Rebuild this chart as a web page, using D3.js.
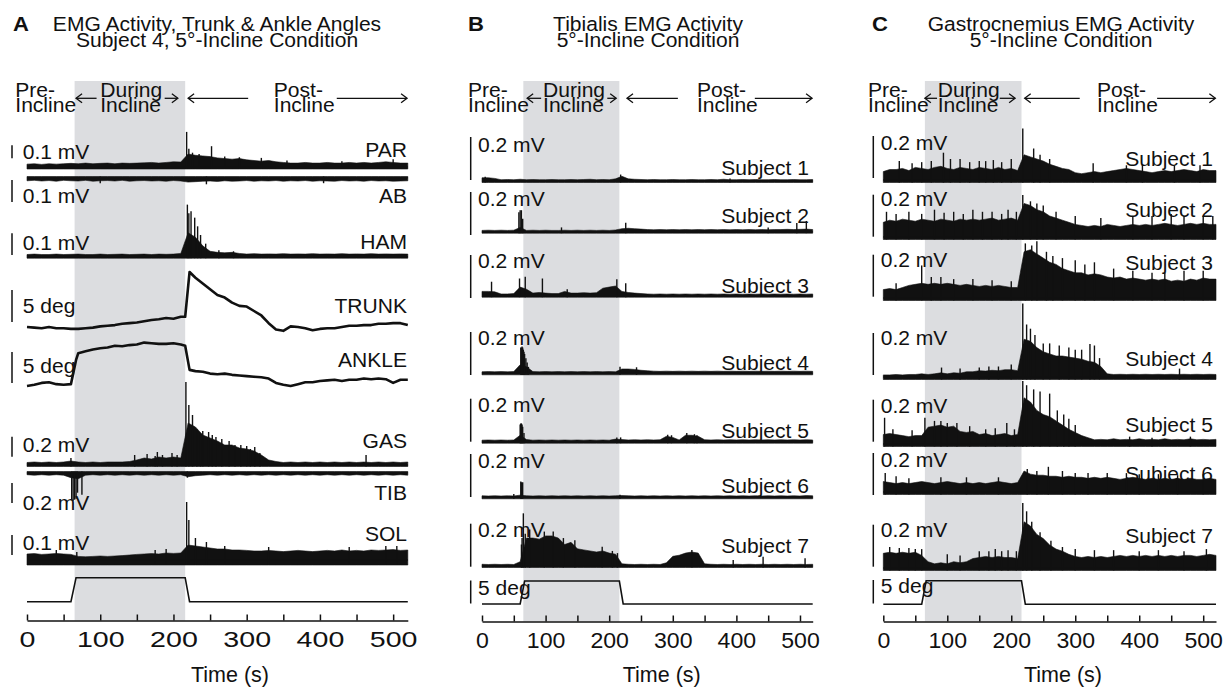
<!DOCTYPE html>
<html>
<head>
<meta charset="utf-8">
<script src="https://cdn.jsdelivr.net/npm/d3@7"></script>
<style>
  body { margin: 0; background: #fff; }
</style>
</head>
<body>
<div id="chart"></div>
<script>
const width = 1229;
const height = 689;

// sample times of the EMG envelopes (s)
const times = [0,10,20,30,40,50,60,70,80,90,100,110,120,130,140,150,160,170,180,190,200,210,
  220,230,240,250,260,270,280,290,300,310,320,330,340,350,360,370,380,390,400,410,
  420,430,440,450,460,470,480,490,500,510,520];
// sample times of the angle traces (s)
const angleTimes = [0,10,20,30,40,50,60,67,70,80,90,100,110,120,130,140,150,160,170,180,190,200,210,216,222,
  230,240,250,260,270,280,290,300,310,320,330,340,350,360,370,380,390,400,410,420,430,440,450,460,470,480,490,500,510,520];
const tickValues = [0,50,100,150,200,250,300,350,400,450,500];
const shadeRange = [65, 216];

const titleA = ["EMG Activity, Trunk & Ankle Angles", "Subject 4, 5°-Incline Condition"];
const titleB = ["Tibialis EMG Activity", "5°-Incline Condition"];
const titleC = ["Gastrocnemius EMG Activity", "5°-Incline Condition"];

// angles (deg)
const trunkDeg = [0,-0.1,-0.2,0,-0.2,-0.2,-0.3, -0.3,
  -0.3,-0.2,-0.1,0.1,0.2,0.3,0.5,0.6,0.7,0.9,1.1,1.2,1.4,1.3,1.6, 1.6,8.6,
  7.7,6.8,5.9,5.0,4.6,3.8,3.3,3.2,2.5,1.8, 0.6,-0.4,-0.6,0.1,0,-0.2,-0.5,-0.3,-0.2,-0.2,
  0,0.2,0.2,0.3,0.3,0.5,0.5,0.6,0.6,0.3];
const ankleDeg = [0,0.2,0.5,0.6,0.3,0.2,0.3, 4.2,
  5.3,5.6,5.9,6.1,6.2,6.5,6.4,6.6,6.7,7.0,6.9,6.8,6.8,6.9,6.7, 6.5,2.6,
  2.4,2.3,2.0,1.9,2.0,1.8,1.7,1.6,1.5,1.4, 1.2,0.5,0.2,0,0.3,0.6,0.6,0.8,0.9,1.0,
  0.8,1.0,1.0,1.2,1.1,1.2,1.1,0.5,1.0,1.0];
const inclineDeg = [0,0,0,0,0,0,0, 5,
  5,5,5,5,5,5,5,5,5,5,5,5,5,5,5, 5,0,
  0,0,0,0,0,0,0,0,0,0, 0,0,0,0,0,0,0,0,0,0,
  0,0,0,0,0,0,0,0,0,0];

// Panel A EMG envelopes (mV)
const parA = [0.022,0.025,0.02,0.025,0.022,0.025,0.028,
  0.025,0.03,0.025,0.028,0.03,0.025,0.03,0.028,
  0.03,0.032,0.035,0.03,0.035,0.04,0.038,
  0.1,0.09,0.085,0.08,0.07,0.065,0.06,0.065,0.055,0.05,
  0.045,0.05,0.04,0.035,0.03,0.03,0.035,0.03,0.03,0.035,
  0.03,0.03,0.035,0.03,0.035,0.03,0.035,0.04,0.035,0.03,0.03];
const parSpikes = [[218,0.27],[221,0.14],[226,0.11],[235,0.1],[252,0.16],[270,0.08],[290,0.075],[320,0.07],[355,0.05],[430,0.045],[500,0.06]];
const abA = [0.014,0.012,0.015,0.013,0.016,0.012,0.014,0.015,0.012,0.016,0.014,0.013,0.015,0.012,0.016,0.014,0.013,0.015,0.014,0.016,0.013,0.015,
  0.02,0.018,0.016,0.015,0.017,0.014,0.016,0.015,0.013,0.016,
  0.014,0.015,0.013,0.016,0.014,0.015,0.013,0.016,0.014,0.015,
  0.016,0.013,0.015,0.014,0.016,0.013,0.015,0.014,0.016,0.015,0.014];
const abSpikes = [[100,0.025],[245,0.03],[405,0.025]];
const hamA = [0.01,0.012,0.01,0.01,0.012,0.01,0.011,0.012,0.01,0.01,0.012,0.01,0.011,0.012,0.01,0.011,0.012,0.01,0.012,0.011,0.012,0.015,
  0.11,0.09,0.05,0.025,0.02,0.018,0.02,0.015,0.012,0.014,
  0.012,0.013,0.012,0.014,0.012,0.013,0.012,0.014,0.012,0.013,
  0.012,0.014,0.012,0.013,0.012,0.014,0.012,0.013,0.012,0.013,0.012];
const hamSpikes = [[219,0.24],[221,0.2],[224,0.21],[229,0.18],[233,0.14],[237,0.1],[244,0.06],[262,0.03],[282,0.025]];
const gasA = [0.025,0.03,0.025,0.03,0.025,0.03,0.04,
  0.03,0.025,0.03,0.025,0.03,0.03,0.03,0.035,
  0.05,0.07,0.06,0.08,0.07,0.08,0.07,
  0.42,0.38,0.3,0.27,0.24,0.2,0.2,0.17,0.16,0.14,
  0.1,0.05,0.035,0.025,0.03,0.025,0.03,0.025,0.03,0.025,
  0.03,0.025,0.03,0.025,0.03,0.025,0.03,0.025,0.03,0.025,0.03];
const gasSpikes = [[60,0.07],[147,0.1],[164,0.11],[175,0.09],[178,0.13],[185,0.1],[198,0.12],[205,0.1],[217,0.83],[221,0.6],[226,0.5],[232,0.36],[237,0.32],[240,0.34],[248,0.33],[253,0.3],[258,0.28],[266,0.26],[276,0.24],[284,0.2],[292,0.2],[300,0.19],[305,0.16],[311,0.18],[318,0.12],[463,0.1]];
const tibA = [0.02,0.025,0.02,0.025,0.02,0.025,0.05,
  0.06,0.025,0.02,0.025,0.02,0.025,0.02,0.025,
  0.02,0.025,0.02,0.025,0.02,0.025,0.02,
  0.04,0.03,0.025,0.02,0.025,0.02,0.025,0.02,0.025,0.02,
  0.025,0.02,0.025,0.02,0.025,0.02,0.025,0.02,0.025,0.02,
  0.025,0.02,0.025,0.02,0.025,0.02,0.025,0.02,0.025,0.02,0.025];
const tibSpikes = [[61,0.27],[63,0.28],[65,0.27],[67,0.26],[69,0.2],[75,0.22],[219,0.05]];
const solA = [0.03,0.032,0.028,0.03,0.033,0.03,0.028,
  0.018,0.016,0.018,0.02,0.018,0.02,0.022,0.025,
  0.028,0.03,0.032,0.03,0.035,0.033,0.035,
  0.075,0.07,0.065,0.06,0.055,0.055,0.05,0.05,0.048,0.045,
  0.045,0.048,0.045,0.042,0.045,0.048,0.045,0.042,0.045,0.048,
  0.045,0.05,0.045,0.048,0.045,0.05,0.048,0.05,0.052,0.048,0.05];
const solSpikes = [[40,0.05],[68,0.04],[175,0.05],[190,0.055],[218,0.29],[221,0.2],[230,0.11],[245,0.09],[270,0.07],[330,0.065],[440,0.065],[490,0.07],[505,0.07]];

// Panel B, tibialis, subjects 1-7 (mV)
const tib1 = [0.015,0.015,0.012,0.006,0.007,0.006,0.008,
  0.006,0.007,0.006,0.006,0.007,0.006,0.006,0.007,
  0.006,0.007,0.008,0.006,0.007,0.006,0.01,
  0.022,0.01,0.008,0.007,0.006,0.007,0.006,0.006,0.007,0.006,
  0.006,0.007,0.006,0.006,0.007,0.006,0.008,0.006,0.006,0.007,
  0.006,0.007,0.006,0.006,0.007,0.006,0.006,0.007,0.006,0.006,0.007];
const tib1Spikes = [[5,0.02],[218,0.03],[390,0.012]];
const tib2 = [0.006,0.007,0.006,0.007,0.006,0.007,0.02,
  0.006,0.007,0.006,0.007,0.006,0.006,0.007,0.006,
  0.007,0.006,0.007,0.006,0.007,0.006,0.008,
  0.014,0.016,0.014,0.012,0.01,0.009,0.01,0.009,0.01,0.009,
  0.01,0.009,0.01,0.009,0.01,0.009,0.01,0.009,0.01,0.009,
  0.01,0.009,0.01,0.009,0.01,0.01,0.011,0.01,0.011,0.012,0.01];
const tib2Spikes = [[58,0.09],[60,0.1],[62,0.1],[64,0.06],[125,0.02],[226,0.042],[450,0.02],[495,0.04],[510,0.05]];
const tib3 = [0.02,0.02,0.018,0.008,0.008,0.01,0.04,
  0.03,0.012,0.015,0.012,0.01,0.01,0.02,0.012,
  0.012,0.014,0.012,0.014,0.035,0.04,0.045,
  0.02,0.015,0.012,0.01,0.008,0.007,0.008,0.007,0.008,0.007,
  0.008,0.007,0.008,0.007,0.008,0.007,0.008,0.007,0.008,0.007,
  0.008,0.007,0.008,0.007,0.008,0.007,0.008,0.007,0.008,0.007,0.008];
const tib3Spikes = [[15,0.065],[59,0.08],[68,0.088],[95,0.08],[134,0.03],[212,0.076],[226,0.058]];
const tib4 = [0.007,0.008,0.007,0.008,0.007,0.008,0.04,
  0.03,0.008,0.007,0.008,0.007,0.008,0.007,0.008,
  0.007,0.008,0.007,0.008,0.007,0.008,0.007,
  0.02,0.02,0.018,0.014,0.012,0.01,0.009,0.01,0.009,0.01,
  0.009,0.01,0.009,0.01,0.009,0.01,0.009,0.01,0.009,0.01,
  0.009,0.01,0.009,0.01,0.009,0.01,0.009,0.01,0.009,0.01,0.009];
const tib4Spikes = [[61,0.12],[62,0.12],[63,0.125],[64,0.12],[65,0.11],[66,0.1],[67,0.09],[69,0.07],[71,0.05],[73,0.03],[217,0.03],[243,0.028]];
const tib5 = [0.007,0.008,0.007,0.008,0.007,0.008,0.03,
  0.01,0.007,0.008,0.007,0.008,0.007,0.008,0.007,
  0.008,0.007,0.008,0.007,0.008,0.007,0.012,
  0.01,0.008,0.009,0.008,0.009,0.008,0.009,0.025,0.02,0.008,
  0.03,0.03,0.025,0.009,0.008,0.009,0.008,0.009,0.008,0.009,
  0.008,0.009,0.008,0.009,0.008,0.009,0.008,0.009,0.008,0.009,0.008];
const tib5Spikes = [[60,0.08],[61,0.085],[62,0.085],[63,0.08],[64,0.07],[66,0.04],[212,0.02],[218,0.02],[292,0.032],[298,0.03],[322,0.04],[334,0.035],[338,0.03]];
const tib6 = [0.007,0.006,0.007,0.006,0.007,0.006,0.01,
  0.007,0.006,0.007,0.006,0.007,0.006,0.007,0.006,
  0.007,0.006,0.007,0.006,0.007,0.006,0.007,
  0.008,0.007,0.006,0.007,0.006,0.007,0.006,0.007,0.006,0.007,
  0.006,0.007,0.006,0.007,0.006,0.007,0.006,0.007,0.006,0.007,
  0.006,0.007,0.006,0.007,0.006,0.007,0.006,0.007,0.006,0.008,0.007];
const tib6Spikes = [[50,0.015],[61,0.073],[62,0.07],[64,0.07],[217,0.012]];
const tib7 = [0.008,0.007,0.008,0.007,0.008,0.007,0.02,
  0.13,0.13,0.125,0.14,0.14,0.13,0.1,0.11,
  0.08,0.075,0.07,0.065,0.07,0.06,0.055,
  0.01,0.008,0.007,0.008,0.007,0.008,0.007,0.015,0.045,0.05,
  0.06,0.065,0.06,0.01,0.008,0.007,0.008,0.007,0.008,0.007,
  0.008,0.007,0.008,0.007,0.008,0.007,0.008,0.007,0.008,0.007,0.008];
const tib7Spikes = [[62,0.1],[63,0.13],[65,0.245],[68,0.15],[75,0.17],[98,0.16],[112,0.16],[128,0.13],[146,0.12],[189,0.09],[205,0.07],[213,0.06],[330,0.075],[395,0.028],[442,0.043],[508,0.036]];

// Panel C, gastrocnemius, subjects 1-7 (mV)
const gas1 = [0.04,0.05,0.05,0.055,0.045,0.06,0.055,
  0.05,0.06,0.065,0.055,0.05,0.06,0.055,0.05,
  0.06,0.055,0.05,0.06,0.05,0.055,0.045,
  0.12,0.11,0.1,0.09,0.075,0.065,0.055,0.05,0.035,0.03,
  0.035,0.04,0.035,0.04,0.045,0.05,0.055,0.05,0.045,0.04,
  0.035,0.04,0.045,0.04,0.045,0.05,0.045,0.04,0.05,0.045,0.045];
const gas1Spikes = [[25,0.09],[45,0.08],[60,0.085],[75,0.09],[94,0.13],[105,0.1],[120,0.1],[135,0.085],[150,0.09],[160,0.09],[172,0.095],[185,0.085],[200,0.1],[218,0.245],[235,0.15],[245,0.12],[260,0.1],[328,0.08],[380,0.07],[405,0.075],[455,0.07],[495,0.07]];
const gas2 = [0.07,0.08,0.075,0.085,0.08,0.075,0.085,
  0.08,0.075,0.085,0.08,0.075,0.085,0.08,0.085,
  0.08,0.085,0.09,0.08,0.085,0.09,0.08,
  0.16,0.15,0.13,0.12,0.1,0.09,0.08,0.07,0.06,0.055,
  0.05,0.055,0.05,0.06,0.055,0.05,0.055,0.06,0.055,0.06,
  0.055,0.06,0.065,0.06,0.055,0.06,0.065,0.06,0.065,0.06,0.06];
const gas2Spikes = [[5,0.12],[20,0.11],[40,0.12],[60,0.11],[80,0.13],[95,0.115],[110,0.12],[125,0.11],[140,0.13],[155,0.12],[170,0.12],[185,0.11],[195,0.13],[208,0.12],[218,0.2],[230,0.17],[240,0.16],[250,0.15],[270,0.12],[300,0.1],[340,0.09],[390,0.1],[420,0.1],[450,0.11],[470,0.1],[500,0.1],[515,0.1]];
const gas3 = [0.04,0.045,0.04,0.05,0.06,0.065,0.07,
  0.065,0.07,0.065,0.07,0.065,0.06,0.065,0.06,
  0.055,0.06,0.055,0.06,0.055,0.05,0.05,
  0.22,0.23,0.21,0.19,0.17,0.16,0.14,0.13,0.12,0.12,
  0.11,0.115,0.11,0.1,0.095,0.1,0.09,0.095,0.09,0.085,
  0.09,0.085,0.09,0.08,0.085,0.08,0.09,0.085,0.095,0.09,0.09];
const gas3Spikes = [[20,0.07],[60,0.155],[75,0.1],[90,0.1],[110,0.09],[140,0.09],[170,0.085],[200,0.08],[222,0.26],[232,0.25],[240,0.27],[255,0.22],[265,0.2],[280,0.19],[300,0.18],[315,0.16],[330,0.17],[360,0.14],[390,0.13],[420,0.12],[440,0.12],[470,0.13],[500,0.13]];
const gas4 = [0.01,0.01,0.012,0.01,0.012,0.012,0.015,
  0.012,0.015,0.02,0.015,0.02,0.018,0.025,0.025,
  0.03,0.028,0.032,0.03,0.035,0.035,0.03,
  0.18,0.17,0.14,0.12,0.11,0.1,0.1,0.095,0.09,0.085,
  0.075,0.07,0.05,0.015,0.012,0.013,0.012,0.013,0.012,0.013,
  0.012,0.013,0.012,0.013,0.012,0.013,0.012,0.013,0.012,0.013,0.012];
const gas4Spikes = [[91,0.045],[120,0.04],[150,0.045],[165,0.05],[180,0.05],[200,0.06],[218,0.35],[224,0.25],[230,0.23],[237,0.2],[250,0.16],[260,0.16],[275,0.15],[290,0.14],[300,0.13],[310,0.13],[323,0.157],[330,0.15],[338,0.09],[463,0.04]];
const gas5 = [0.045,0.05,0.045,0.04,0.035,0.04,0.04,
  0.08,0.085,0.09,0.08,0.085,0.06,0.055,0.06,
  0.045,0.05,0.04,0.045,0.05,0.04,0.045,
  0.22,0.2,0.16,0.14,0.13,0.11,0.09,0.07,0.055,0.04,
  0.03,0.02,0.022,0.02,0.025,0.02,0.022,0.02,0.025,0.02,
  0.022,0.02,0.025,0.02,0.022,0.02,0.025,0.02,0.022,0.02,0.022];
const gas5Spikes = [[2,0.125],[15,0.07],[45,0.065],[65,0.125],[80,0.11],[90,0.11],[100,0.1],[115,0.1],[135,0.085],[160,0.07],[175,0.075],[193,0.1],[205,0.07],[218,0.3],[224,0.28],[235,0.26],[245,0.25],[260,0.24],[272,0.16],[282,0.14],[290,0.12],[300,0.09],[385,0.035],[420,0.03],[480,0.035]];
const gas6 = [0.05,0.045,0.04,0.045,0.04,0.045,0.05,
  0.045,0.04,0.045,0.05,0.045,0.04,0.045,0.04,
  0.045,0.04,0.045,0.05,0.045,0.04,0.045,
  0.1,0.085,0.08,0.08,0.075,0.075,0.07,0.075,0.07,0.07,
  0.065,0.07,0.065,0.07,0.065,0.06,0.065,0.07,0.065,0.06,
  0.065,0.06,0.065,0.06,0.065,0.06,0.065,0.06,0.06,0.065,0.06];
const gas6Spikes = [[3,0.09],[20,0.075],[40,0.065],[90,0.07],[130,0.07],[180,0.07],[225,0.11],[240,0.1],[258,0.12],[280,0.1],[300,0.09],[320,0.09],[350,0.09],[380,0.09],[400,0.085],[430,0.085],[460,0.08],[500,0.085]];
const gas7 = [0.07,0.075,0.07,0.075,0.07,0.075,0.06,
  0.03,0.02,0.025,0.02,0.03,0.025,0.03,0.045,
  0.05,0.055,0.05,0.055,0.05,0.05,0.045,
  0.22,0.2,0.16,0.14,0.11,0.09,0.08,0.065,0.055,0.05,
  0.055,0.05,0.055,0.05,0.055,0.06,0.055,0.06,0.055,0.06,
  0.055,0.06,0.055,0.06,0.055,0.06,0.06,0.055,0.06,0.065,0.06];
const gas7Spikes = [[10,0.1],[25,0.095],[40,0.095],[50,0.09],[60,0.09],[100,0.065],[120,0.06],[150,0.08],[165,0.08],[175,0.09],[185,0.08],[195,0.085],[208,0.08],[218,0.31],[224,0.27],[232,0.22],[245,0.17],[262,0.13],[280,0.1],[300,0.09],[330,0.085],[360,0.085],[400,0.08],[430,0.085],[470,0.08],[505,0.09]];

const subjectNames = ["Subject 1","Subject 2","Subject 3","Subject 4","Subject 5","Subject 6","Subject 7"];

const FONT = '"Liberation Sans", Arial, Helvetica, sans-serif';
const INK = "#111";

const svg = d3.select("#chart")
  .append("svg")
  .attr("width", width)
  .attr("height", height)
  .style("display", "block")
  .style("font-family", FONT);

// layout of each panel
function subjectTraces(list, spikes, bases, barBottoms, labelYs, nameYs, gain, floor) {
  return list.map((v, i) => ({
    type: "emg", values: v, spikes: spikes[i], base: bases[i], gain: gain, floor: floor,
    bar: { bottom: barBottoms[i], value: 0.2, text: "0.2 mV", y: labelYs[i] },
    name: subjectNames[i], nameY: nameYs[i]
  }));
}

const tracesB = subjectTraces(
  [tib1, tib2, tib3, tib4, tib5, tib6, tib7],
  [tib1Spikes, tib2Spikes, tib3Spikes, tib4Spikes, tib5Spikes, tib6Spikes, tib7Spikes],
  [181, 231.7, 295.7, 373.3, 441.7, 497.3, 566],
  [180, 235, 298, 375, 441.7, 497, 566.7],
  [151.7, 206, 268.3, 345, 411.7, 468.3, 536.7],
  [175, 223.3, 293.3, 370, 438.3, 493.3, 553.3], 215, 1.5);

const tracesC = subjectTraces(
  [gas1, gas2, gas3, gas4, gas5, gas6, gas7],
  [gas1Spikes, gas2Spikes, gas3Spikes, gas4Spikes, gas5Spikes, gas6Spikes, gas7Spikes],
  [180, 237, 298, 377, 444, 492, 568],
  [178, 236.7, 296.7, 375, 441.7, 495, 566.7],
  [150, 206, 266.7, 345, 413.3, 466.7, 536.7],
  [165.7, 216.7, 270, 365.7, 431.7, 480.7, 543.3], 210, 2.5);

const panels = [
  {
    letter: "A", letterX: 13, titles: titleA, titleX: 217,
    range: [27, 407.8], axisY: 620.5, tickScale: 1.3, timeX: 230,
    barX: 12, labelX: 22.7, nameX: 407,
    phase: { pre: -16, during: 100, post: 337, arrows: [[67, 95, -1], [188, 206, 1], [220, 302, -1], [423, 519, 1]] },
    incline: { base: 601.7, gain: 4.8, bar: null },
    traces: [
      { type: "emg", values: parA, spikes: parSpikes, base: 167, gain: 130, floor: 2,
        bar: { bottom: 158.3, value: 0.1, text: "0.1 mV", y: 158.5 }, name: "PAR", nameY: 156.7 },
      { type: "emg", values: abA, spikes: abSpikes, base: 177.7, gain: 220, floor: 1.2, invert: true,
        bar: { bottom: 202, value: 0.1, text: "0.1 mV", y: 203.3 }, name: "AB", nameY: 203.3 },
      { type: "emg", values: hamA, spikes: hamSpikes, base: 256.7, gain: 217, floor: 1.5,
        bar: { bottom: 255, value: 0.1, text: "0.1 mV", y: 250 }, name: "HAM", nameY: 249.3 },
      { type: "angle", values: trunkDeg, base: 327, gain: 6.4,
        bar: { bottom: 322, value: 5, text: "5 deg", y: 313.3 }, name: "TRUNK", nameY: 313.3 },
      { type: "angle", values: ankleDeg, base: 386, gain: 6.2,
        bar: { bottom: 383, value: 5, text: "5 deg", y: 373.3 }, name: "ANKLE", nameY: 367.3 },
      { type: "emg", values: gasA, spikes: gasSpikes, base: 465, gain: 100, floor: 1.5,
        bar: { bottom: 456.7, value: 0.2, text: "0.2 mV", y: 451.7 }, name: "GAS", nameY: 448.3 },
      { type: "emg", values: tibA, spikes: tibSpikes, base: 472.7, gain: 100, floor: 1.2, invert: true,
        bar: { bottom: 503, value: 0.2, text: "0.2 mV", y: 510 }, name: "TIB", nameY: 500 },
      { type: "emg", values: solA, spikes: solSpikes, base: 560, gain: 200, floor: 5,
        bar: { bottom: 555, value: 0.1, text: "0.1 mV", y: 550 }, name: "SOL", nameY: 540.7 }
    ]
  },
  {
    letter: "B", letterX: 468, titles: titleB, titleX: 648,
    range: [482, 812.7], axisY: 621.5, tickScale: 1.05, timeX: 661.7,
    barX: 470.7, labelX: 478, nameX: 809,
    phase: { pre: -22, during: 96, post: 338, arrows: [[71, 93, -1], [197, 211, 1], [228, 308, -1], [429, 519, 1]] },
    incline: { base: 604, gain: 4.6, bar: { bottom: 603.5, value: 5, text: "5 deg", y: 595 } },
    traces: tracesB
  },
  {
    letter: "C", letterX: 872, titles: titleC, titleX: 1061,
    range: [883.3, 1216], axisY: 621.5, tickScale: 1.05, timeX: 1063,
    barX: 873.3, labelX: 880.7, nameX: 1213,
    phase: { pre: -24, during: 85, post: 334, arrows: [[65, 84, -1], [182, 206, 1], [221, 307, -1], [428, 519, 1]] },
    incline: { base: 604.3, gain: 4.7, bar: { bottom: 603.5, value: 5, text: "5 deg", y: 593.3 } },
    traces: tracesC
  }
];

// text is a little wider than Arial in the original, hence the x-stretch
function addText(g, x, y, str, size, anchor, sx) {
  return g.append("text")
    .attr("transform", `translate(${x},${y}) scale(${sx || 1.08},1)`)
    .attr("font-size", size)
    .attr("text-anchor", anchor || "start")
    .attr("fill", INK)
    .text(str);
}

function drawArrow(g, xa, xb, dir, y) {
  g.append("line")
    .attr("x1", xa).attr("x2", xb).attr("y1", y).attr("y2", y)
    .attr("stroke", INK).attr("stroke-width", 1.3);
  const tip = dir > 0 ? xb : xa;
  const back = tip - dir * 6;
  g.append("path")
    .attr("d", `M${back},${y - 4.5}L${tip},${y}L${back},${y + 4.5}`)
    .attr("fill", "none").attr("stroke", INK).attr("stroke-width", 1.3);
}

function drawScaleBar(g, p, tr, yScale) {
  if (!tr.bar) return;
  const len = Math.abs(yScale(tr.bar.value) - yScale(0));
  g.append("line")
    .attr("x1", p.barX).attr("x2", p.barX)
    .attr("y1", tr.bar.bottom).attr("y2", tr.bar.bottom - len)
    .attr("stroke", INK).attr("stroke-width", 1.5);
}

panels.forEach(p => {
  const g = svg.append("g");
  const x = d3.scaleLinear().domain([0, 520]).range(p.range);

  // shaded incline period
  g.append("rect")
    .attr("x", x(shadeRange[0])).attr("y", 81)
    .attr("width", x(shadeRange[1]) - x(shadeRange[0]))
    .attr("height", p.axisY - 81)
    .attr("fill", "#dcdde0");

  // traces
  p.traces.forEach(tr => {
    const y = d3.scaleLinear().domain([0, 1])
      .range(tr.invert ? [tr.base, tr.base + tr.gain] : [tr.base, tr.base - tr.gain]);
    if (tr.type === "emg") {
      const y0 = tr.invert ? tr.base - tr.floor : tr.base + tr.floor;
      const area = d3.area()
        .x((d, i) => x(times[i]))
        .y0(y0)
        .y1(d => y(d));
      g.append("path").datum(tr.values)
        .attr("d", area)
        .attr("fill", INK)
        .attr("stroke", INK).attr("stroke-width", 0.6);
      g.selectAll(null).data(tr.spikes).join("line")
        .attr("x1", d => x(d[0])).attr("x2", d => x(d[0]))
        .attr("y1", y0).attr("y2", d => y(d[1]))
        .attr("stroke", INK).attr("stroke-width", 1.4);
      g.append("line")
        .attr("x1", p.range[0]).attr("x2", p.range[1])
        .attr("y1", tr.base).attr("y2", tr.base)
        .attr("stroke", INK).attr("stroke-width", 1.6);
    } else {
      const line = d3.line()
        .x((d, i) => x(angleTimes[i]))
        .y(d => y(d));
      g.append("path").datum(tr.values)
        .attr("d", line)
        .attr("fill", "none").attr("stroke", INK)
        .attr("stroke-width", 2.6).attr("stroke-linejoin", "round");
    }
    drawScaleBar(g, p, tr, y);
  });

  // incline profile
  const inc = p.incline;
  const yInc = d3.scaleLinear().domain([0, 5]).range([inc.base, inc.base - 5 * inc.gain]);
  g.append("path").datum(inclineDeg)
    .attr("d", d3.line().x((d, i) => x(angleTimes[i])).y(d => yInc(d)))
    .attr("fill", "none").attr("stroke", INK).attr("stroke-width", 1.6);
  if (inc.bar) {
    drawScaleBar(g, p, inc, yInc);
    addText(g, p.labelX, inc.bar.y, inc.bar.text, 19.5);
  }

  // labels
  p.traces.forEach(tr => {
    addText(g, p.labelX, tr.bar.y, tr.bar.text, 19.5);
    addText(g, p.nameX, tr.nameY, tr.name, 19.5, "end");
  });

  // time axis
  const axis = d3.axisBottom(x)
    .tickValues(tickValues)
    .tickSizeInner(-6)
    .tickSizeOuter(0)
    .tickPadding(11)
    .tickFormat(d => d % 100 === 0 ? d : "");
  const ag = g.append("g")
    .attr("transform", `translate(0,${p.axisY})`)
    .call(axis);
  ag.select(".domain").attr("stroke", INK).attr("stroke-width", 1.5);
  ag.selectAll(".tick line").attr("stroke", INK).attr("stroke-width", 1.5);
  ag.selectAll(".tick text")
    .attr("font-family", FONT).attr("font-size", 22).attr("fill", INK)
    .attr("transform", `scale(${p.tickScale},1)`);
  addText(g, p.timeX, 682, "Time (s)", 21.5, "middle", 1);

  // titles
  addText(g, p.letterX, 31, p.letter, 21, "start", 1.05).attr("font-weight", "bold");
  addText(g, p.titleX, 31, p.titles[0], 19.5, "middle");
  addText(g, p.titleX, 47, p.titles[1], 19.5, "middle");

  // phase annotations
  const ph = p.phase;
  [[ph.pre, "Pre-"], [ph.during, "During"], [ph.post, "Post-"]].forEach(([t, s]) => {
    addText(g, x(t), 96.5, s, 19.5);
    addText(g, x(t), 111.5, "Incline", 19.5);
  });
  ph.arrows.forEach(([a, b, dir]) => drawArrow(g, x(a), x(b), dir, 98.3));
});
</script>
</body>
</html>
